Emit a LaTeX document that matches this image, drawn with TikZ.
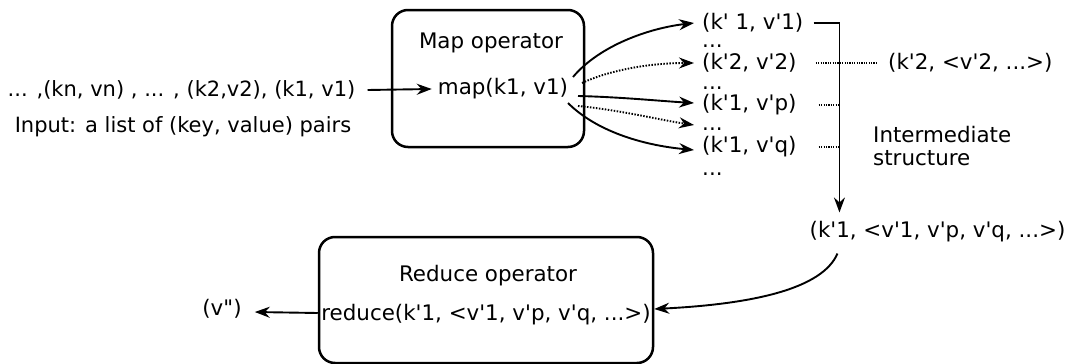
\documentclass[tikz,border=0pt]{standalone}
\usepackage{fontspec}
\setmainfont{DejaVu Sans}[Ligatures=TeXOff]
\usetikzlibrary{arrows.meta,calc}
\begin{document}
\begin{tikzpicture}[x=1pt,y=-1pt,
  lbl/.style={font=\fontsize{21.4}{25}\selectfont, inner sep=0pt},
  opbox/.style={draw, line width=2.5pt, rounded corners=16pt, inner sep=0pt},
  arr/.style={line width=1.9pt, -{Stealth[length=15pt,width=11pt,inset=5pt]}},
  dotarr/.style={arr, dash pattern=on 1.5pt off 1.5pt},
  dotline/.style={line width=1.4pt, dash pattern=on 1.2pt off 1.2pt},
]
\useasboundingbox (0,0) rectangle (1068,364);
% boxes
\node[opbox, minimum width=192pt, minimum height=137pt] (mapbox) at (488,78.5) {};
\node[opbox, minimum width=334pt, minimum height=126pt] (redbox) at (486,300) {};
% texts
\node[lbl, anchor=base] (maptitle) at (491,48) {Map operator};
\node[lbl] (mapcall) at (503,89) {map(k1, v1)};
\node[lbl, font=\fontsize{21}{25}\selectfont] (input) at (181.5,90) {... ,(kn, vn) , ... , (k2,v2), (k1, v1)};
\node[lbl, font=\fontsize{21}{25}\selectfont] (inputlbl) at (183,127) {Input: a list of (key, value) pairs};
\node[lbl, anchor=west] (kv1) at (702,23) {(k' 1, v'1)};
\node[lbl, anchor=base west] (d1) at (702,47) {...};
\node[lbl, anchor=west] (kv2) at (702,63) {(k'2, v'2)};
\node[lbl, anchor=base west] (d2) at (702,89) {...};
\node[lbl, anchor=west] (kvp) at (702,105) {(k'1, v'p)};
\node[lbl, anchor=base west] (d3) at (702,130) {...};
\node[lbl, anchor=west] (kvq) at (702,147) {(k'1, v'q)};
\node[lbl, anchor=base west] (d4) at (702,175) {...};
\node[lbl, anchor=west] (kv2agg) at (888,63) {(k'2, <v'2, ...>)};
\node[lbl, anchor=base west] (inter1) at (873,142) {Intermediate};
\node[lbl, anchor=base west] (inter2) at (873,165) {structure};
\node[lbl] (agg) at (937.5,232) {(k'1, <v'1, v'p, v'q, ...>)};
\node[lbl, anchor=base] (redtitle) at (488,281) {Reduce operator};
\node[lbl] (redcall) at (486,315) {reduce(k'1, <v'1, v'p, v'q, ...>)};
\node[lbl] (vout) at (222,309) {(v")};
% start points of map outputs
\coordinate (s1) at (573,77);
\coordinate (s2) at (582,83);
\coordinate (s3) at (578,96);
\coordinate (s4) at (578,106);
\coordinate (s5) at (568,103);
\coordinate (ex) at ($(agg.north west)+(30,0)$);
% connectors
\draw[arr] ($(input.east)+(12,0)$) -- ($(mapcall.west)+(-6,0)$);
\draw[arr] (s1) .. controls (600,45) and (650,28) .. ($(kv1.west)+(-8,0)$);
\draw[dotarr] (s2) .. controls (610,70) and (650,63) .. ($(kv2.west)+(-8,0)$);
\draw[arr] (s3) .. controls (620,97) and (660,101) .. ($(kvp.west)+(-8,-2)$);
\draw[dotarr] (s4) .. controls (620,110) and (660,120) .. ($(d3.base west)+(-8,-5)$);
\draw[arr] (s5) .. controls (595,130) and (640,145) .. ($(kvq.west)+(-8,3)$);
\draw[arr] ($(kv1.east)+(10,0)$) -| ($(agg.north west)+(30,-9)$);
\draw[dotline] ($(kv2.east)+(19,0)$) -- ($(kv2agg.west)+(-11,0)$);
\draw[dotline] ($(kvp.east)+(22,0)$) -- (kvp.east -| ex);
\draw[dotline] ($(kvq.east)+(22,0)$) -- (kvq.east -| ex);
\draw[arr] ($(agg.south west)+(28,11)$) .. controls +(-15,35) and +(100,-5) .. ($(redbox.east)+(0,9)$);
\draw[arr] ($(redbox.west)+(0,13)$) -- ($(vout.east)+(13,3)$);
\end{tikzpicture}
\end{document}
